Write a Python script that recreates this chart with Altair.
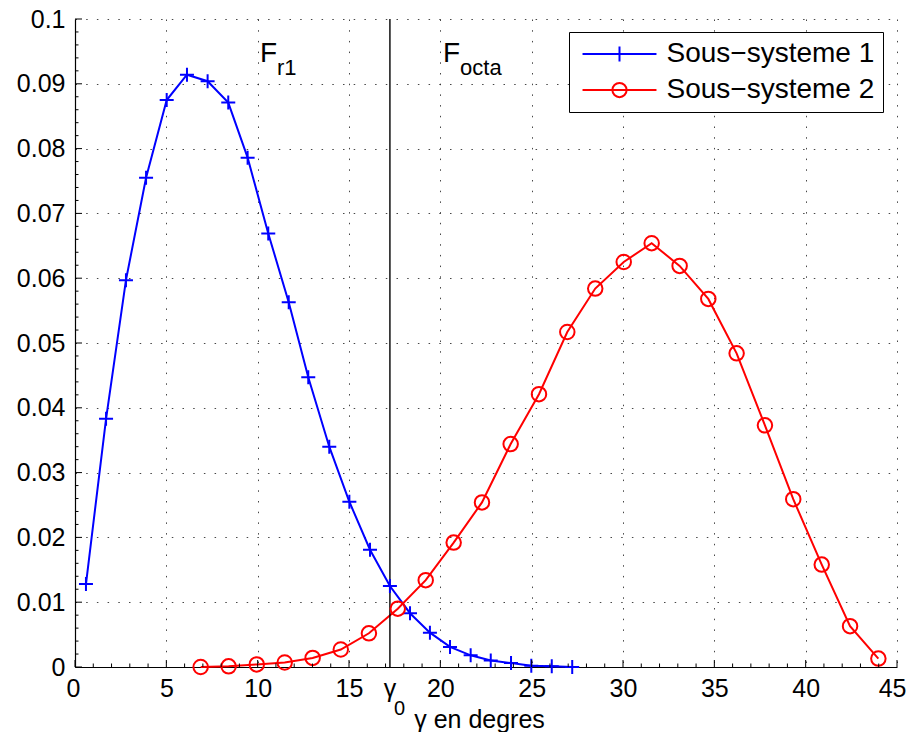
import altair as alt
import pandas as pd

# ---------------- data ----------------
series_names = ["Sous\u2212systeme 1", "Sous\u2212systeme 2"]
series_colors = ["#0000ff", "#ff0000"]

s1_x = [0.60, 1.70, 2.79, 3.89, 5.02, 6.13, 7.26, 8.39, 9.45, 10.58, 11.70, 12.77,
        13.92, 15.02, 16.15, 17.24, 18.34, 19.43, 20.53, 21.66, 22.76, 23.87, 24.98,
        26.10, 27.22]
s1_y = [0.0128, 0.0383, 0.0597, 0.0755, 0.0875, 0.0914, 0.0904, 0.0871, 0.0786,
        0.0669, 0.0563, 0.0447, 0.0340, 0.0255, 0.0181, 0.0125, 0.0083, 0.0053,
        0.0031, 0.0018, 0.0010, 0.0006, 0.0002, 0.0001, 0.0000]

s2_x = [6.88, 8.41, 9.95, 11.48, 13.01, 14.55, 16.09, 17.67, 19.20, 20.73, 22.28,
        23.85, 25.40, 26.95, 28.48, 30.04, 31.57, 33.10, 34.67, 36.22, 37.77, 39.32,
        40.88, 42.43, 43.98]
s2_y = [0.0000, 0.0001, 0.0004, 0.0007, 0.0014, 0.0027, 0.0052, 0.0090, 0.0134,
        0.0192, 0.0254, 0.0344, 0.0421, 0.0517, 0.0584, 0.0625, 0.0654, 0.0619,
        0.0568, 0.0484, 0.0373, 0.0259, 0.0158, 0.0063, 0.0013]

gamma0 = 17.24

x_major = [0, 5, 10, 15, 20, 25, 30, 35, 40, 45]
x_minor = [1, 2, 3, 4, 6, 7, 8, 9, 11, 12, 13, 14, 16, 17, 18, 19, 21, 22, 23, 24,
           26, 27, 28, 29, 31, 32, 33, 34, 36, 37, 38, 39, 41, 42, 43, 44]
y_major = [0, 0.01, 0.02, 0.03, 0.04, 0.05, 0.06, 0.07, 0.08, 0.09, 0.1]
y_minor = [0.002, 0.004, 0.006, 0.008, 0.012, 0.014, 0.016, 0.018, 0.022, 0.024,
           0.026, 0.028, 0.032, 0.034, 0.036, 0.038, 0.042, 0.044, 0.046, 0.048,
           0.052, 0.054, 0.056, 0.058, 0.062, 0.064, 0.066, 0.068, 0.072, 0.074,
           0.076, 0.078, 0.082, 0.084, 0.086, 0.088, 0.092, 0.094, 0.096, 0.098]

ann_x = [10.13, 20.15]
ann_y = [0.0934, 0.0934]
ann_main = ["F", "F"]
ann_sub = ["r1", "octa"]

x_title = "\u03b3 en degres"

# ---------------- tables ----------------
df1 = pd.DataFrame({"x": s1_x, "y": s1_y, "serie": series_names[0]})
df2 = pd.DataFrame({"x": s2_x, "y": s2_y, "serie": series_names[1]})
dfall = pd.concat([df1, df2], ignore_index=True)
dfg = pd.DataFrame({"x": [gamma0]})
dfxM = pd.DataFrame({"x": x_major})
dfxm = pd.DataFrame({"x": x_minor})
dfyM = pd.DataFrame({"y": y_major})
dfym = pd.DataFrame({"y": y_minor})
dfann = pd.DataFrame({"x": ann_x, "y": ann_y, "main": ann_main, "sub": ann_sub})

W, H = 822, 648
FONT = "Liberation Sans"
GRID_DASH = [1.5, 9.2]

xscale = alt.Scale(domain=[0, 45], nice=False, zero=False)
yscale = alt.Scale(domain=[0, 0.1], nice=False, zero=False)

xaxis = alt.Axis(values=x_major, grid=True, gridDash=GRID_DASH, gridColor="#333",
                 gridWidth=1, gridOpacity=0.9, ticks=False, tickSize=0,
                 domain=True, domainColor="black", domainWidth=1.2,
                 labelFont=FONT, labelFontSize=25, labelColor="black",
                 labelPadding=9, labelFlush=True, labelFlushOffset=9,
                 title=x_title, titleFont=FONT, titleFontSize=25,
                 titleFontWeight="normal", titleColor="black",
                 titleBaseline="alphabetic", titleAlign="center",
                 titleX=404, titleY=60)
yaxis = alt.Axis(values=y_major, format="~g", grid=True, gridDash=GRID_DASH,
                 gridColor="#333", gridWidth=1, gridOpacity=0.9,
                 ticks=False, tickSize=0,
                 domain=True, domainColor="black", domainWidth=1.2,
                 labelFont=FONT, labelFontSize=25, labelColor="black",
                 labelPadding=10, labelFlush=False, title=None)


def X(f):
    return alt.X(f, type="quantitative", scale=xscale, axis=xaxis)


def Y(f):
    return alt.Y(f, type="quantitative", scale=yscale, axis=yaxis)


PLUS = "M-1,0L1,0M0,-1L0,1"
LEG_PLUS = "M-4.93,0L4.93,0M0,-1L0,1"
LEG_CIRC = ("M-4.93,0L4.93,0M-0.95,0A0.95,0.95,0,1,1,0.95,0"
            "A0.95,0.95,0,1,1,-0.95,0")

legend = alt.Legend(orient="none", legendX=494, legendY=13, title=None,
                    labelFont=FONT, labelFontSize=28, labelColor="black",
                    labelLimit=400, symbolSize=225, symbolStrokeWidth=2,
                    symbolOpacity=1, symbolOffset=28.5, labelOffset=33,
                    padding=8, rowPadding=8, strokeColor="black",
                    fillColor="white")

line1 = alt.Chart(df1).mark_line(color=series_colors[0], strokeWidth=2).encode(
    x=X("x"), y=Y("y"))
line2 = alt.Chart(df2).mark_line(color=series_colors[1], strokeWidth=2).encode(
    x=X("x"), y=Y("y"))
vline = alt.Chart(dfg).mark_rule(color="black", strokeWidth=1.4).encode(x=X("x"))
pts1 = alt.Chart(df1).mark_point(shape=PLUS, size=196, filled=False,
                                 color=series_colors[0], strokeWidth=2,
                                 opacity=1).encode(x=X("x"), y=Y("y"))
pts2 = alt.Chart(df2).mark_point(shape="circle", size=210, filled=False,
                                 color=series_colors[1], strokeWidth=2,
                                 opacity=1).encode(x=X("x"), y=Y("y"))
leg = alt.Chart(dfall).mark_point(opacity=0, filled=False, size=225).encode(
    x=X("x"), y=Y("y"),
    color=alt.Color("serie:N", scale=alt.Scale(domain=series_names,
                                                range=series_colors),
                    legend=legend),
    shape=alt.Shape("serie:N", scale=alt.Scale(domain=series_names,
                                                range=[LEG_PLUS, LEG_CIRC]),
                    legend=legend))

xt_major = alt.Chart(dfxM).mark_rule(color="black", strokeWidth=1).encode(
    x=X("x"), y=alt.value(H), y2=alt.value(H - 7))
xt_minor = alt.Chart(dfxm).mark_rule(color="black", strokeWidth=1).encode(
    x=X("x"), y=alt.value(H), y2=alt.value(H - 3.5))
yt_major = alt.Chart(dfyM).mark_rule(color="black", strokeWidth=1).encode(
    y=Y("y"), x=alt.value(0), x2=alt.value(7))
yt_minor = alt.Chart(dfym).mark_rule(color="black", strokeWidth=1).encode(
    y=Y("y"), x=alt.value(0), x2=alt.value(3.5))

ann_main_l = alt.Chart(dfann).mark_text(align="left", baseline="alphabetic",
                                        fontSize=28, font=FONT,
                                        color="black").encode(
    x=X("x"), y=Y("y"), text="main:N")
ann_sub_l = alt.Chart(dfann).mark_text(align="left", baseline="alphabetic",
                                       fontSize=22, font=FONT, color="black",
                                       dx=17, dy=13).encode(
    x=X("x"), y=Y("y"), text="sub:N")

g_lab = alt.Chart(dfg).mark_text(text="\u03b3", align="center",
                                 baseline="alphabetic", fontSize=25, font=FONT,
                                 color="black", dx=0, dy=30).encode(
    x=X("x"), y=alt.value(H))
g_sub = alt.Chart(dfg).mark_text(text="0", align="left", baseline="alphabetic",
                                 fontSize=20, font=FONT, color="black",
                                 dx=4, dy=48).encode(
    x=X("x"), y=alt.value(H))

chart = alt.layer(
    line1, line2, vline, pts1, pts2, leg,
    xt_major, xt_minor, yt_major, yt_minor,
    ann_main_l, ann_sub_l, g_lab, g_sub,
).properties(
    width=W, height=H,
    autosize=alt.AutoSizeParams(type="none"),
    padding={"left": 67, "top": 11, "right": 10, "bottom": 65},
).configure(font=FONT).configure_view(stroke=None)

chart.save("out.html", embed_options={"renderer": "svg", "actions": False})
